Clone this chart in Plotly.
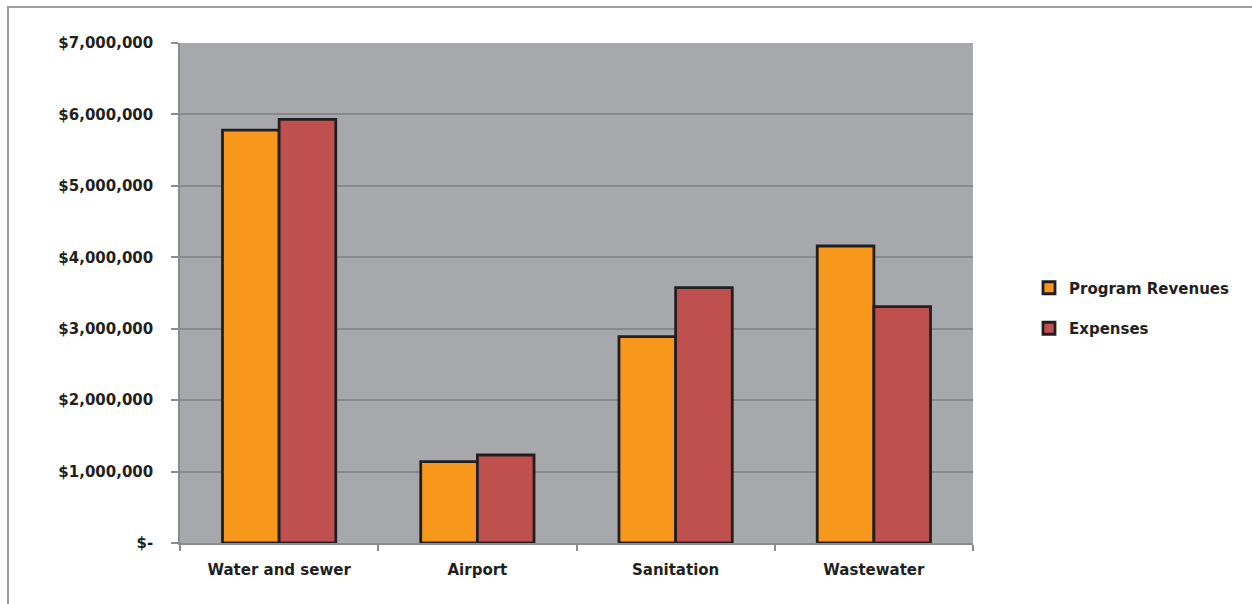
import plotly.graph_objects as go

categories = ["Water and sewer", "Airport", "Sanitation", "Wastewater"]
program_revenues = [5780000, 1138000, 2890000, 4158000]
expenses = [5930000, 1232000, 3574000, 3310000]
tick_values = [0, 1000000, 2000000, 3000000, 4000000, 5000000, 6000000, 7000000]
tick_labels = ["$-", "$1,000,000", "$2,000,000", "$3,000,000", "$4,000,000",
               "$5,000,000", "$6,000,000", "$7,000,000"]

FONT = "DejaVu Sans"
TXT = "#231F20"

fig = go.Figure()
fig.add_trace(go.Bar(
    name="Program Revenues", x=categories, y=program_revenues,
    marker=dict(color="#F7981D", line=dict(color=TXT, width=2.8)),
    legendgroup="a",
))
fig.add_trace(go.Bar(
    name="Expenses", x=categories, y=expenses,
    marker=dict(color="#C0504D", line=dict(color=TXT, width=2.8)),
    legendgroup="b",
))

L, R, T, B = 180, 279, 43, 61
W, H = 1252, 604
pw, ph = W - L - R, H - T - B

fig.update_layout(
    width=W, height=H,
    margin=dict(l=L, r=R, t=T, b=B, pad=0),
    barmode="group", bargap=1.5 / 3.5, bargroupgap=0,
    plot_bgcolor="#A7A8AC", paper_bgcolor="white",
    font=dict(family=FONT, size=15, color=TXT, weight="bold"),
    legend=dict(
        x=(1029 - L) / pw, xanchor="left", y=0.47, yanchor="middle",
        font=dict(family=FONT, size=15, color=TXT, weight="bold"),
        tracegroupgap=18, bgcolor="rgba(0,0,0,0)",
    ),
    xaxis=dict(
        showline=True, linecolor="#8C8C8C", linewidth=1.5,
        ticks="outside", ticklen=6, tickcolor="#8C8C8C", tickwidth=1.5,
        tickson="boundaries", ticklabelstandoff=12,
        showgrid=False, fixedrange=True,
    ),
    yaxis=dict(
        range=[0, 7000000], tickvals=tick_values, ticktext=tick_labels,
        showline=True, linecolor="#8C8C8C", linewidth=1.5,
        ticks="outside", ticklen=7, tickcolor="#8C8C8C", tickwidth=1.5,
        ticklabelstandoff=15,
        showgrid=True, gridcolor="#8A8A8D", gridwidth=1.5,
        zeroline=False, fixedrange=True,
    ),
    shapes=[dict(
        type="rect", xref="paper", yref="paper",
        x0=(8 - L) / pw, x1=(W + 10 - L) / pw,
        y0=-(H + 10 - (H - B)) / ph, y1=(H - B - 7) / ph,
        line=dict(color="#9E9E9E", width=2), fillcolor="rgba(0,0,0,0)",
        layer="below",
    )],
)

fig.write_html("out.html")
